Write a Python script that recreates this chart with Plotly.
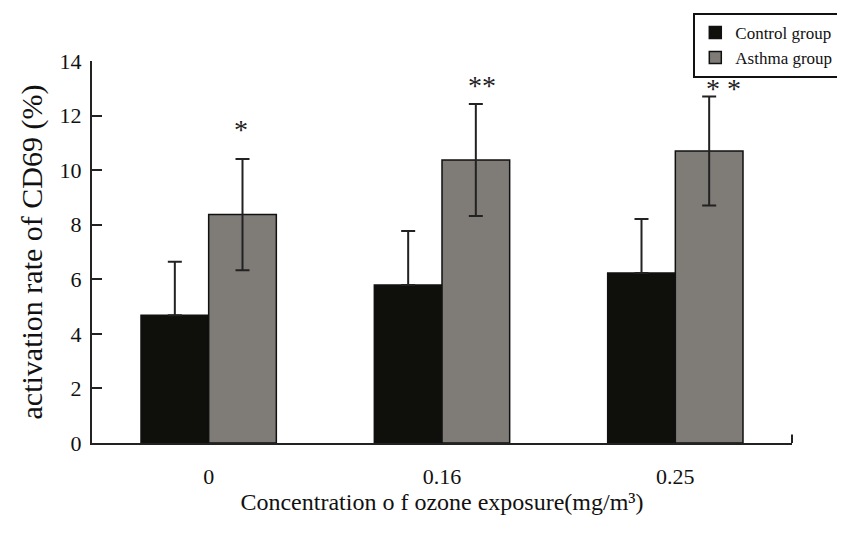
import plotly.graph_objects as go

categories = ["0", "0.16", "0.25"]
control_values = [4.68, 5.79, 6.23]
control_errors = [1.96, 1.98, 1.98]
asthma_values = [8.37, 10.37, 10.70]
asthma_errors = [2.04, 2.05, 2.00]
significance = ["*", "**", "* *"]
significance_y = [11.5, 13.1, 13.0]
y_ticks = [0, 2, 4, 6, 8, 10, 12, 14]

FONT = "Liberation Serif, Times New Roman, serif"

fig = go.Figure()
fig.add_trace(go.Bar(
    x=categories, y=control_values, name="Control group", legendgroup="a",
    marker=dict(color="#0f100c", line=dict(color="#111", width=1.5)),
    error_y=dict(type="data", array=control_errors, arrayminus=[0]*3, symmetric=False,
                 color="#222", thickness=2, width=7),
))
fig.add_trace(go.Bar(
    x=categories, y=asthma_values, name="Asthma group", legendgroup="b",
    marker=dict(color="#7f7b77", line=dict(color="#111", width=1.5)),
    error_y=dict(type="data", array=asthma_errors, color="#222", thickness=2, width=7),
))

shifts = [32, 40, 48]
for i, (s, yv, sh) in enumerate(zip(significance, significance_y, shifts)):
    fig.add_annotation(x=i, y=yv, text=s, showarrow=False, xshift=sh,
                       font=dict(family=FONT, size=28, color="#222"))

fig.add_shape(type="line", xref="paper", yref="paper", x0=1, x1=1, y0=0, y1=0.022,
              line=dict(color="#222", width=2))

fig.update_layout(
    width=845, height=534,
    margin=dict(l=84, r=61, t=53, b=99, autoexpand=False),
    paper_bgcolor="white", plot_bgcolor="white",
    barmode="group", bargap=0.42, bargroupgap=0,
    font=dict(family=FONT, color="#111"),
    showlegend=True,
    legend=dict(x=0.859, y=1.126, xanchor="left", yanchor="top",
                bordercolor="#111", borderwidth=2, bgcolor="white",
                font=dict(family=FONT, size=17), tracegroupgap=15,
                traceorder="normal"),
    xaxis=dict(type="category", range=[-0.5, 2.5], showline=True, linecolor="#222",
               linewidth=2, ticks="", tickfont=dict(size=22, family=FONT),
               ticklabelstandoff=13, automargin=False,
               title=dict(text="Concentration o f ozone exposure(mg/m³)",
                          font=dict(size=24, family=FONT), standoff=0)),
    yaxis=dict(range=[0, 14], tickvals=y_ticks, showline=True, linecolor="#222",
               linewidth=2, ticks="inside", ticklen=10, tickwidth=1.5, tickcolor="#222",
               showgrid=False, zeroline=False, tickfont=dict(size=22, family=FONT),
               ticklabelstandoff=4, automargin=False,
               title=dict(text="activation rate of CD69 (%)",
                          font=dict(size=30, family=FONT), standoff=8)),
)

fig.write_html("out.html")
